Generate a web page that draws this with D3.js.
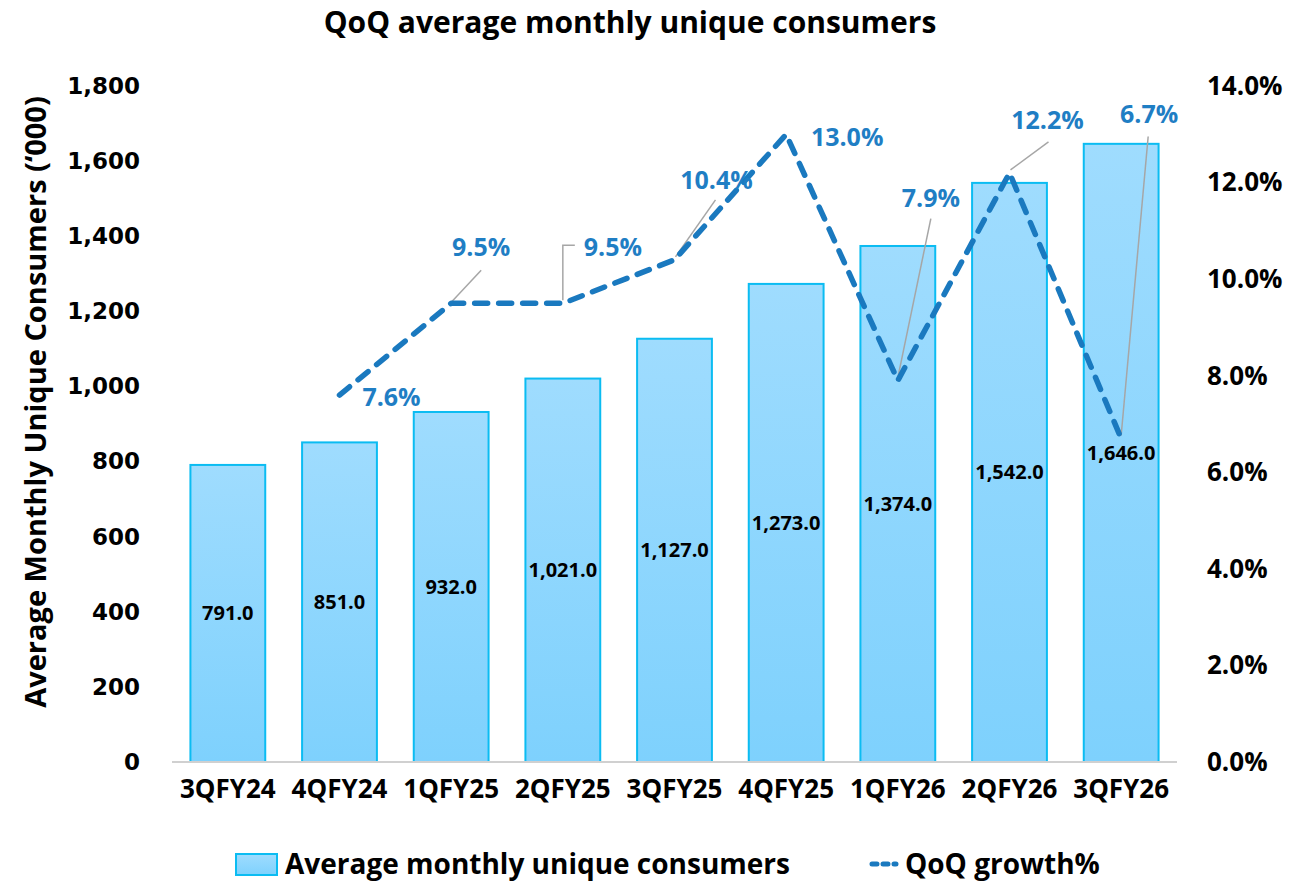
<!DOCTYPE html>
<html>
<head>
<meta charset="utf-8">
<script src="https://cdn.jsdelivr.net/npm/d3@7"></script>
<style>
  body { margin: 0; background: #fff; }
  svg text { font-family: "Open Sans", Lato, sans-serif; font-weight: bold; }
</style>
</head>
<body>
<div id="chart"></div>
<script>
const categories = ['3QFY24', '4QFY24', '1QFY25', '2QFY25', '3QFY25', '4QFY25', '1QFY26', '2QFY26', '3QFY26'];
const consumers = [791, 851, 932, 1021, 1127, 1273, 1374, 1542, 1646];
const growth = [null, 7.6, 9.5, 9.5, 10.4, 13.0, 7.9, 12.2, 6.7];
const leftTicks = [0, 200, 400, 600, 800, 1000, 1200, 1400, 1600, 1800];
const rightTicks = [0, 2, 4, 6, 8, 10, 12, 14];

// growth label offsets from their point, plus leader line (relative) where Excel drew one
const labelPos = [
  null,
  {dx: 52, dy: 2, leader: null},
  {dx: 30, dy: -56, leader: [[1, -2], [30, -33]]},
  {dx: 50, dy: -56, leader: [[0, -3], [0, -58], [12, -58]]},
  {dx: 42, dy: -80, leader: [[1, -3], [41, -60]]},
  {dx: 61, dy: 3, leader: null},
  {dx: 33, dy: -182, leader: [[0, -3], [33, -162]]},
  {dx: 38, dy: -53, leader: [[1, -3], [39, -31]]},
  {dx: 28, dy: -324, leader: [[0, -3], [27, -302]]}
];

const width = 1309, height = 881;
const margin = {top: 86, right: 132, bottom: 119, left: 172};
const innerW = width - margin.left - margin.right;
const innerH = height - margin.top - margin.bottom;

const svg = d3.select('#chart').append('svg')
  .attr('width', width)
  .attr('height', height);

const defs = svg.append('defs');
const grad = defs.append('linearGradient')
  .attr('id', 'barGrad')
  .attr('x1', 0).attr('y1', 0).attr('x2', 0).attr('y2', 1);
grad.append('stop').attr('offset', '0%').attr('stop-color', '#9fdcfe');
grad.append('stop').attr('offset', '100%').attr('stop-color', '#7ed1fd');

const x = d3.scaleBand()
  .domain(categories)
  .range([0, innerW])
  .paddingInner(0.33)
  .paddingOuter(0.165);
const y = d3.scaleLinear().domain([0, 1800]).range([innerH, 0]);
const y2 = d3.scaleLinear().domain([0, 14]).range([innerH, 0]);

const g = svg.append('g').attr('transform', `translate(${margin.left},${margin.top})`);

// title
svg.append('text')
  .attr('x', 630).attr('y', 33)
  .attr('text-anchor', 'middle')
  .style('font-size', '30px')
  .text('QoQ average monthly unique consumers');

// left axis
const yAxis = g.append('g')
  .call(d3.axisLeft(y).tickValues(leftTicks).tickSize(0).tickPadding(32).tickFormat(d3.format(',')));
yAxis.select('.domain').remove();
yAxis.selectAll('text')
  .style('font-family', '"DejaVu Sans", Verdana, sans-serif')
  .style('font-size', '23px')
  .attr('fill', '#000');

// right axis
const yAxisR = g.append('g')
  .attr('transform', `translate(${innerW},0)`)
  .call(d3.axisRight(y2).tickValues(rightTicks).tickSize(0).tickPadding(30).tickFormat(d => d.toFixed(1) + '%'));
yAxisR.select('.domain').remove();
yAxisR.selectAll('text')
  .style('font-size', '26px')
  .attr('fill', '#000');

// y axis title
svg.append('text')
  .attr('transform', `translate(46, ${margin.top + innerH / 2 - 22}) rotate(-90)`)
  .attr('text-anchor', 'middle')
  .style('font-size', '29px')
  .text('Average Monthly Unique Consumers (\u2018000)');

// bars
g.selectAll('.bar')
  .data(consumers)
  .join('rect')
  .attr('class', 'bar')
  .attr('x', (d, i) => x(categories[i]))
  .attr('y', d => y(d))
  .attr('width', x.bandwidth())
  .attr('height', d => innerH - y(d))
  .attr('fill', 'url(#barGrad)')
  .attr('stroke', '#0bbcf2')
  .attr('stroke-width', 2);

// baseline
g.append('line')
  .attr('x1', 0).attr('x2', innerW)
  .attr('y1', innerH).attr('y2', innerH)
  .attr('stroke', '#d0d0d0')
  .attr('stroke-width', 2);

// x axis
const xAxis = g.append('g')
  .attr('transform', `translate(0,${innerH})`)
  .call(d3.axisBottom(x).tickSize(0).tickPadding(18));
xAxis.select('.domain').remove();
xAxis.selectAll('text')
  .style('font-size', '26px')
  .attr('fill', '#000');

// bar value labels
g.selectAll('.bar-label')
  .data(consumers)
  .join('text')
  .attr('class', 'bar-label')
  .attr('x', (d, i) => x(categories[i]) + x.bandwidth() / 2)
  .attr('y', d => y(d / 2))
  .attr('dy', '0.35em')
  .attr('text-anchor', 'middle')
  .style('font-size', '20px')
  .text(d => d3.format(',.1f')(d));

// growth line
const cx = i => x(categories[i]) + x.bandwidth() / 2;
const pts = growth.map((v, i) => ({v, i})).filter(d => d.v !== null);
const line = d3.line()
  .x(d => cx(d.i))
  .y(d => y2(d.v));

// leader lines
pts.forEach(d => {
  const lp = labelPos[d.i];
  if (!lp.leader) return;
  const px = cx(d.i), py = y2(d.v);
  g.append('path')
    .attr('d', d3.line()(lp.leader.map(p => [px + p[0], py + p[1]])))
    .attr('fill', 'none')
    .attr('stroke', '#a6a6a6')
    .attr('stroke-width', 1.5);
});

g.append('path')
  .datum(pts)
  .attr('d', line)
  .attr('fill', 'none')
  .attr('stroke', '#1a79bf')
  .attr('stroke-width', 5.5)
  .attr('stroke-linecap', 'round')
  .attr('stroke-linejoin', 'round')
  .attr('stroke-dasharray', '13,11');

// growth labels
g.selectAll('.g-label')
  .data(pts)
  .join('text')
  .attr('class', 'g-label')
  .attr('x', d => cx(d.i) + labelPos[d.i].dx)
  .attr('y', d => y2(d.v) + labelPos[d.i].dy)
  .attr('dy', '0.35em')
  .attr('text-anchor', 'middle')
  .attr('fill', '#1f7ec4')
  .style('font-size', '25px')
  .text(d => d.v.toFixed(1) + '%');

// legend
const legend = svg.append('g').attr('transform', 'translate(236, 864)');
legend.append('rect')
  .attr('x', 0).attr('y', -10).attr('width', 41).attr('height', 21)
  .attr('fill', 'url(#barGrad)').attr('stroke', '#0bbcf2').attr('stroke-width', 2);
legend.append('text')
  .attr('x', 49).attr('y', 0).attr('dy', '0.35em')
  .style('font-size', '28px')
  .text('Average monthly unique consumers');
legend.append('line')
  .attr('x1', 636).attr('x2', 660).attr('y1', 0).attr('y2', 0)
  .attr('stroke', '#1a79bf').attr('stroke-width', 5)
  .attr('stroke-linecap', 'round').attr('stroke-dasharray', '5,6');
legend.append('text')
  .attr('x', 669).attr('y', 0).attr('dy', '0.35em')
  .style('font-size', '28px')
  .text('QoQ growth%');
</script>
</body>
</html>
